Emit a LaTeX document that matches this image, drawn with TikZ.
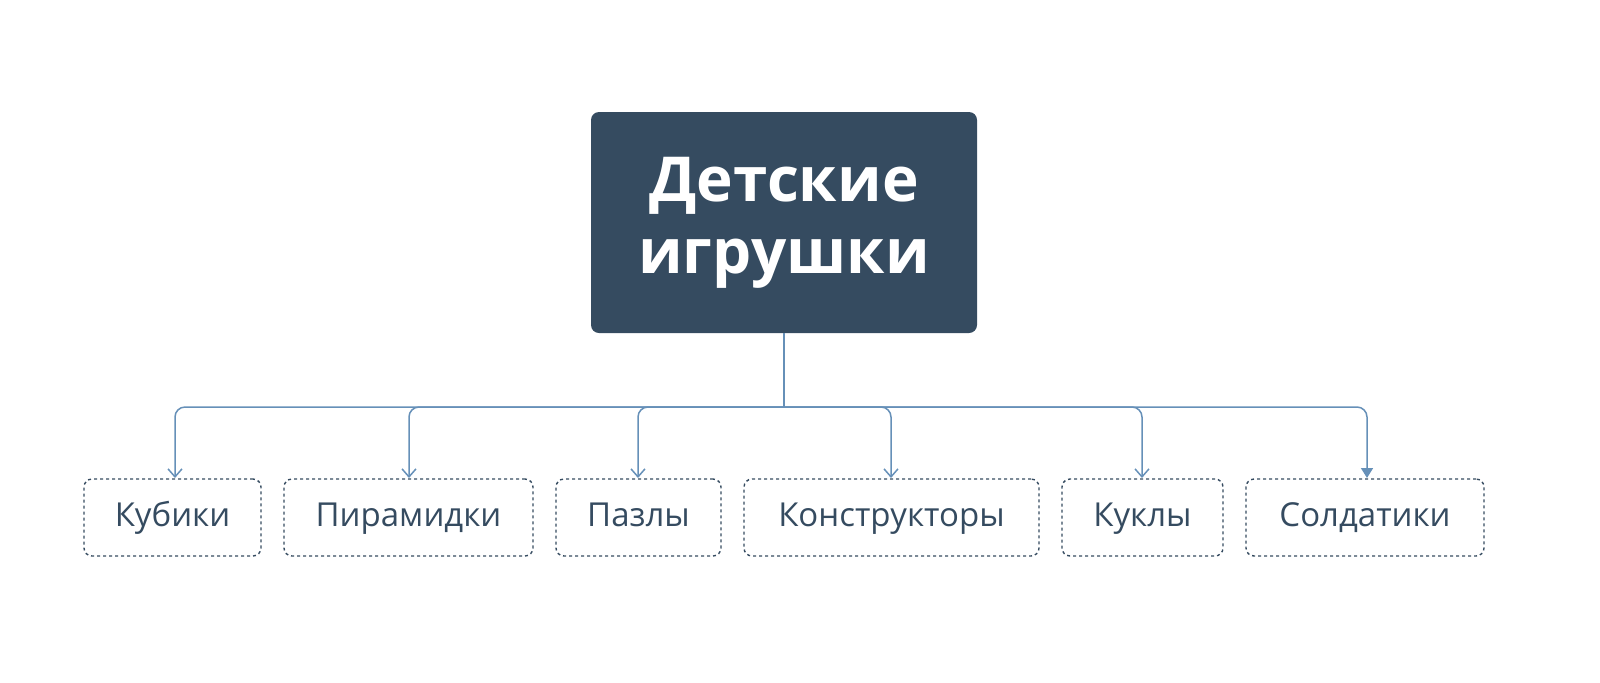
\documentclass[tikz,border=0pt]{standalone}
\usepackage{fontspec}
\setmainfont{Open Sans}
\usetikzlibrary{arrows.meta}
\definecolor{rootc}{HTML}{354B60}
\definecolor{linec}{HTML}{6690B8}
\definecolor{leaftext}{HTML}{354B60}
\begin{document}
\begin{tikzpicture}[x=0.5pt,y=-0.5pt,
  rootbox/.style={fill=rootc,rounded corners=4pt,minimum width=193pt,minimum height=110.5pt,text=white,font=\bfseries\fontsize{31}{36}\selectfont,align=center,inner sep=0pt},
  leaf/.style={draw=rootc,line width=0.7pt,dash pattern=on 1.5pt off 1.5pt,rounded corners=4pt,minimum height=38.5pt,text=leaftext,font=\fontsize{16.5}{20}\selectfont,inner sep=0pt,text height=12pt,text depth=3.5pt},
  conn/.style={draw=linec,line width=0.75pt,rounded corners=5pt},
  openarrow/.style={conn,-{Straight Barb[length=4pt,width=7pt]}},
  filledarrow/.style={conn,-{Triangle[length=5pt,width=6pt]}}]
\node[rootbox] (root) at (784,222.5) {Детские\\игрушки};
\node[leaf,minimum width=88.5pt] (l1) at (172.5,517.5) {Кубики};
\node[leaf,minimum width=124.5pt] (l2) at (408.5,517.5) {Пирамидки};
\node[leaf,minimum width=82.5pt] (l3) at (638.5,517.5) {Пазлы};
\node[leaf,minimum width=147.5pt] (l4) at (891.5,517.5) {Конструкторы};
\node[leaf,minimum width=80.5pt] (l5) at (1142.5,517.5) {Куклы};
\node[leaf,minimum width=119pt] (l6) at (1365,517.5) {Солдатики};
\coordinate (j) at (784,407);
\draw[conn] (root.south) -- (j);
\draw[openarrow] (j) -| (175,478);
\draw[openarrow] (j) -| (409,478);
\draw[openarrow] (j) -| (638,478);
\draw[openarrow] (j) -| (891,478);
\draw[openarrow] (j) -| (1142,478);
\draw[filledarrow] (j) -| (1367,478);
\pgfresetboundingbox
\useasboundingbox (0,0) rectangle (1600,682);
\end{tikzpicture}
\end{document}
